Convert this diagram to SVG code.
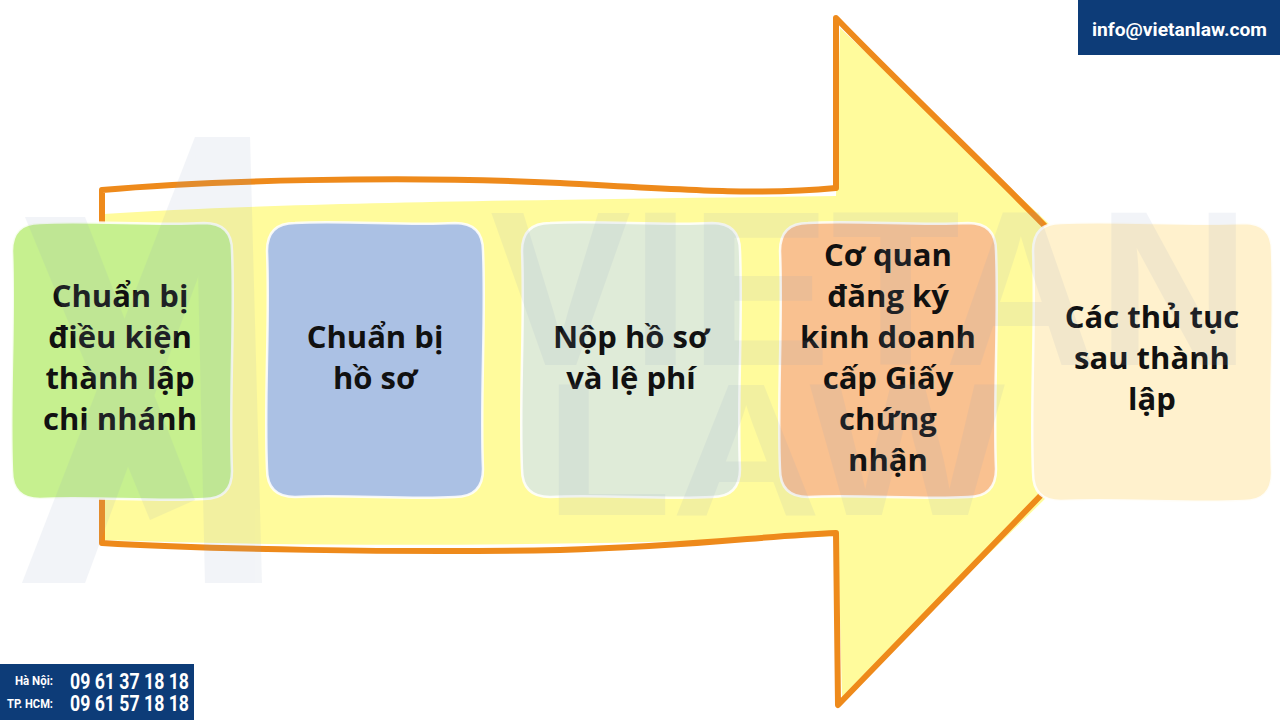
<svg xmlns="http://www.w3.org/2000/svg" width="1280" height="720" viewBox="0 0 1280 720">
<style>
.lbl{font-family:"Open Sans","Noto Sans","DejaVu Sans",sans-serif;font-weight:700;font-size:31px;fill:#111;text-anchor:middle}
.box{stroke:#ffffff;stroke-width:2.5;stroke-opacity:0.85}
.badge{fill:#0D3C78}
.bt{font-family:Roboto,"Liberation Sans",sans-serif;font-weight:700;fill:#ffffff}
.wm{fill:#8FA0C2;opacity:0.11}
</style>
<rect width="1280" height="720" fill="#ffffff"/>

<g id="connectors">
  <path id="arrow-fill" d="M104,214 C250,204 500,200 836,196 L840,28 L1062,236 L1165,360 L1052,492 L842,698 L838,536 C700,542 400,550 104,540 Z" fill="#FFFB9C"/>
  <path id="arrow-stroke" d="M102,190 C200,181 400,175 560,183 C700,191 760,195 836,188 L836,18 C900,84 980,160 1047,228 L1160,360 L1046,490 L838,705 L836,533 C760,536 700,546 560,550 C400,553 200,549 102,543 Z" fill="none" stroke="#EE8A1B" stroke-width="6" stroke-linejoin="round"/>
</g>

<g id="node1">
  <path class="box" fill="#C6F08F" d="M40,223 C89,220 155,226 204,223 Q232,223 232,251 C235,320 229,402 232,471 Q232,499 204,499 C155,502 89,496 40,499 Q12,499 12,471 C9,402 15,320 12,251 Q12,223 40,223 Z"/>
  <text class="lbl" x="120" y="307">Chuẩn bị</text>
  <text class="lbl" x="120" y="348">điều kiện</text>
  <text class="lbl" x="120" y="389">thành lập</text>
  <text class="lbl" x="120" y="430">chi nhánh</text>
</g>

<g id="node2">
  <path class="box" fill="#ABC1E4" d="M295,223 C343,220 407,226 455,223 Q483,223 483,251 C486,319 480,401 483,469 Q483,497 455,497 C407,500 343,494 295,497 Q267,497 267,469 C264,401 270,319 267,251 Q267,223 295,223 Z"/>
  <text class="lbl" x="375" y="348">Chuẩn bị</text>
  <text class="lbl" x="375" y="389">hồ sơ</text>
</g>

<g id="node3">
  <path class="box" fill="#DFEBD8" d="M550,223 C598,220 664,226 712,223 Q740,223 740,251 C743,319 737,401 740,469 Q740,497 712,497 C664,500 598,494 550,497 Q522,497 522,469 C519,401 525,319 522,251 Q522,223 550,223 Z"/>
  <text class="lbl" x="631" y="348">Nộp hồ sơ</text>
  <text class="lbl" x="631" y="389">và lệ phí</text>
</g>

<g id="node4">
  <path class="box" fill="#F9C190" d="M808,223 C856,220 920,226 968,223 Q996,223 996,251 C999,319 993,401 996,469 Q996,497 968,497 C920,500 856,494 808,497 Q780,497 780,469 C777,401 783,319 780,251 Q780,223 808,223 Z"/>
  <text class="lbl" x="888" y="266">Cơ quan</text>
  <text class="lbl" x="888" y="307">đăng ký</text>
  <text class="lbl" x="888" y="348">kinh doanh</text>
  <text class="lbl" x="888" y="389">cấp Giấy</text>
  <text class="lbl" x="888" y="430">chứng</text>
  <text class="lbl" x="888" y="471">nhận</text>
</g>

<g id="node5">
  <path class="box" fill="#FFF1CD" d="M1061,223 C1117,220 1188,226 1244,223 Q1272,223 1272,251 C1275,320 1269,404 1272,473 Q1272,501 1244,501 C1188,504 1117,498 1061,501 Q1033,501 1033,473 C1030,404 1036,320 1033,251 Q1033,223 1061,223 Z"/>
  <text class="lbl" x="1152" y="328">Các thủ tục</text>
  <text class="lbl" x="1152" y="369">sau thành</text>
  <text class="lbl" x="1152" y="410">lập</text>
</g>

<g id="watermark" class="wm">
  <polygon points="195,137 250,137 85,583 22,583"/>
  <polygon points="195,137 250,137 262,583 205,583"/>
  <polygon points="25,217 85,217 195,500 150,520"/>
  <text x="490" y="365" font-family="Liberation Sans, sans-serif" font-weight="700" font-size="220" textLength="760" lengthAdjust="spacingAndGlyphs">VIETAN</text>
  <text x="545" y="515" font-family="Liberation Sans, sans-serif" font-weight="700" font-size="190" textLength="460" lengthAdjust="spacingAndGlyphs">LAW</text>
</g>

<g id="email-badge">
  <rect class="badge" x="1078" y="0" width="202" height="55"/>
  <text class="bt" x="1092" y="36" font-size="19" textLength="175" lengthAdjust="spacingAndGlyphs">info@vietanlaw.com</text>
</g>

<g id="phone-badge">
  <rect class="badge" x="0" y="664" width="194" height="56"/>
  <text class="bt" x="15" y="685" font-size="13" textLength="38" lengthAdjust="spacingAndGlyphs">Hà Nội:</text>
  <text class="bt" x="70" y="689" font-size="22" textLength="119" lengthAdjust="spacingAndGlyphs">09 61 37 18 18</text>
  <text class="bt" x="7" y="708" font-size="13" textLength="46" lengthAdjust="spacingAndGlyphs">TP. HCM:</text>
  <text class="bt" x="70" y="711" font-size="22" textLength="119" lengthAdjust="spacingAndGlyphs">09 61 57 18 18</text>
</g>
</svg>
